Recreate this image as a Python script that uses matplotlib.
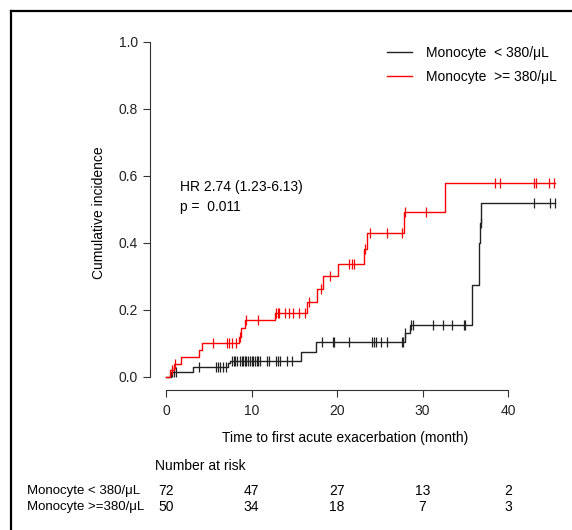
import matplotlib
matplotlib.use("Agg")
import matplotlib.pyplot as plt
import matplotlib.transforms as mtransforms
from matplotlib.lines import Line2D
import numpy as np

plt.rcParams["font.family"] = ["Liberation Sans", "DejaVu Sans"]

# ── Data ───────────────────────────────────────────────────────────────────
low_t = [0, 0.55, 3.2, 7.2, 7.5, 15.75, 17.5, 27.95, 28.5, 35.75, 36.6, 36.75, 36.85, 45.5]
low_y = [0, 0.014, 0.029, 0.041, 0.049, 0.076, 0.105, 0.13, 0.155, 0.275, 0.40, 0.46, 0.52, 0.52]
low_cens = [0.66, 0.94, 1.15, 3.9, 5.9, 6.1, 6.3, 6.7, 7.0, 7.7, 7.9, 8.1, 8.3, 8.65,
            8.85, 9.05, 9.25, 9.4, 9.6, 9.8, 10.0, 10.2, 10.4, 10.6, 10.8, 11.0, 11.8,
            12.0, 12.9, 13.1, 13.3, 14.1, 14.7, 18.2, 19.5, 19.65, 21.4, 24.1, 24.3,
            24.6, 25.2, 25.9, 27.6, 27.75, 28.0, 28.7, 28.85, 31.2, 32.4, 33.4, 34.8,
            35.0, 36.8, 43.0, 44.9, 45.5]

high_t = [0, 0.5, 0.95, 1.7, 3.8, 4.2, 8.5, 8.8, 9.2, 12.75, 16.45, 17.6, 18.4, 20.15,
          23.1, 23.5, 27.8, 32.6, 45.5]
high_y = [0, 0.02, 0.04, 0.06, 0.08, 0.10, 0.12, 0.145, 0.17, 0.192, 0.225, 0.262, 0.30,
          0.337, 0.381, 0.429, 0.494, 0.58, 0.58]
high_cens = [0.7, 1.0, 5.5, 7.1, 7.4, 7.7, 8.2, 8.6, 9.3, 10.8, 12.9, 13.1, 13.25, 13.9,
             14.4, 14.9, 15.5, 16.3, 16.75, 18.1, 19.2, 21.4, 21.7, 22.0, 23.3, 23.9,
             25.9, 27.6, 28.0, 30.4, 38.5, 39.1, 43.0, 43.3, 44.8, 45.4]

risk_times = [0, 10, 20, 30, 40]
risk_low = [72, 47, 27, 13, 2]
risk_high = [50, 34, 18, 7, 3]

labels = ["Monocyte  < 380/\u03bcL", "Monocyte  >= 380/\u03bcL"]
risk_labels = ["Monocyte < 380/\u03bcL", "Monocyte >=380/\u03bcL"]

BLACK = "#222222"
RED = "#ff0000"
AXC = "#333333"
FS = 10

# ── Canvas ─────────────────────────────────────────────────────────────────
fig = plt.figure(figsize=(5.72, 5.30), dpi=100)
fig.patch.set_facecolor("white")
ax = fig.add_axes([0.2619, 0.2634, 0.7234, 0.67])
ax.set_xlim(-1.9, 46.5)
ax.set_ylim(-0.04, 1.02)


def step_at(times, levels, x):
    idx = np.searchsorted(times, x, side="right") - 1
    return np.asarray(levels)[idx]


for t, y, cens, col, lab in [(low_t, low_y, low_cens, BLACK, labels[0]),
                             (high_t, high_y, high_cens, RED, labels[1])]:
    ax.step(t, y, where="post", color=col, lw=1.0, label=lab)
    ax.plot(cens, step_at(t, y, cens), ls="none", marker="|",
            ms=7, mew=0.9, color=col)

# ── Axes styling (R-like separated axes) ───────────────────────────────────
for s in ["top", "right"]:
    ax.spines[s].set_visible(False)
ax.spines["left"].set_bounds(0, 1)
ax.spines["bottom"].set_bounds(0, 40)
for s in ["left", "bottom"]:
    ax.spines[s].set_color(AXC)
    ax.spines[s].set_linewidth(0.8)
ax.set_xticks(risk_times)
ax.set_yticks(np.arange(0, 1.01, 0.2))
ax.set_yticklabels([f"{v:.1f}" for v in np.arange(0, 1.01, 0.2)])
ax.tick_params(colors=AXC, labelcolor="#222222", labelsize=FS, length=5, width=0.8)
ax.tick_params(axis="x", pad=5)
ax.set_xlabel("Time to first acute exacerbation (month)", fontsize=FS)
ax.xaxis.set_label_coords(0.471, -0.115)
ax.set_ylabel("Cumulative incidence", fontsize=FS, labelpad=9)

ax.text(1.6, 0.567, "HR 2.74 (1.23-6.13)", fontsize=FS, va="center", ha="left")
ax.text(1.6, 0.507, "p =  0.011", fontsize=FS, va="center", ha="left")

ax.legend(loc="upper left", bbox_to_anchor=(0.655, 0.937),
          bbox_transform=fig.transFigure, frameon=False, fontsize=FS,
          handlelength=1.8, handletextpad=1.0, labelspacing=0.7)

# ── Number at risk table ───────────────────────────────────────────────────
tr = mtransforms.blended_transform_factory(ax.transData, fig.transFigure)
fig.text(155 / 572, 1 - 466 / 530, "Number at risk", fontsize=FS, va="center")
for row, (lab, vals) in enumerate(zip(risk_labels, [risk_low, risk_high])):
    yf = 1 - (491 + 16 * row) / 530
    fig.text(27 / 572, yf, lab, fontsize=9.5, va="center")
    for t, v in zip(risk_times, vals):
        ax.text(t, yf, str(v), transform=tr, fontsize=FS, ha="center", va="center")

# ── Frame (top and left edges) ─────────────────────────────────────────────
fig.add_artist(Line2D([11 / 572, 1.0], [1 - 11 / 530] * 2, color="black", lw=1.6,
                      transform=fig.transFigure))
fig.add_artist(Line2D([11 / 572] * 2, [0.0, 1 - 11 / 530], color="black", lw=1.6,
                      transform=fig.transFigure))

fig.savefig("out.png", dpi=100, facecolor="white")
plt.close(fig)
